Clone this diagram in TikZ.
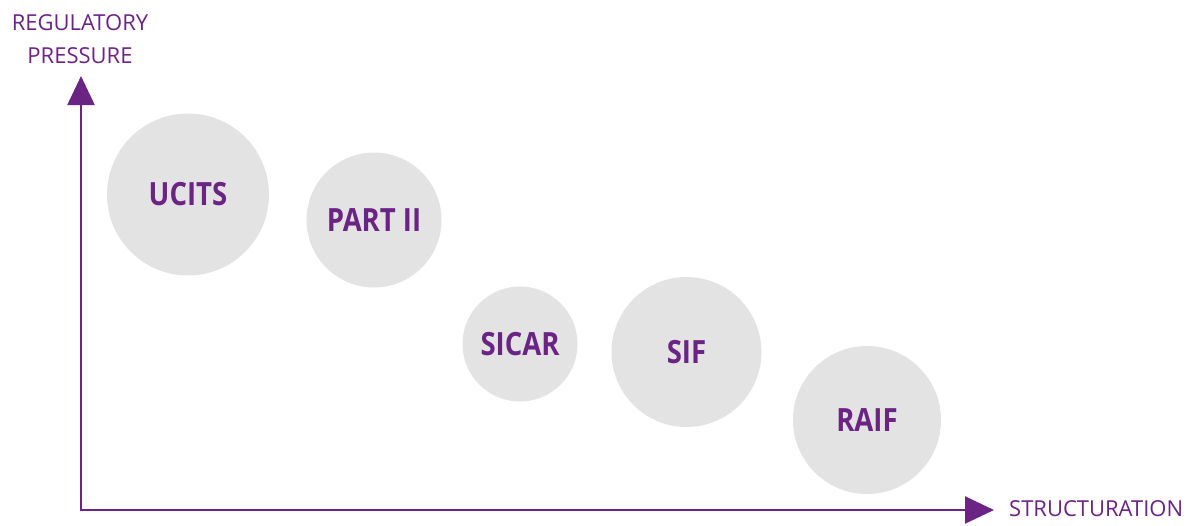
\documentclass[tikz,border=0pt]{standalone}
\usepackage{fontspec}
\setmainfont{Open Sans}
\newfontfamily\bubfont{Open Sans}[FakeStretch=0.86]
\usetikzlibrary{arrows.meta}
\definecolor{axpurple}{HTML}{6B2384}
\definecolor{bubgrey}{HTML}{E3E3E3}
\tikzset{
  bubble/.style={circle, fill=bubgrey, draw=none, inner sep=0pt, text=axpurple,
    font=\bubfont\fontsize{32}{32}\selectfont\bfseries},
  axis/.style={draw=axpurple, line width=2.2pt, -{Triangle[length=29pt,width=27pt]}},
  axlabel/.style={text=axpurple, inner sep=0pt, font=\fontsize{22}{33}\selectfont}
}
\begin{document}
\begin{tikzpicture}[x=1pt,y=-1pt]
\useasboundingbox (0,0) rectangle (1190,525);
\coordinate (origin) at (81,510);
\coordinate (ytip) at (81,76);
\coordinate (xtip) at (994,510);
\node[bubble, minimum size=162pt] (ucits) at (188,194.5) {UCITS};
\node[bubble, minimum size=135pt] (part) at (374,220) {PART II};
\node[bubble, minimum size=115pt] (sicar) at (520,344) {SICAR};
\node[bubble, minimum size=150pt] (sif) at (686.5,352) {SIF};
\node[bubble, minimum size=148pt] (raif) at (867,420) {RAIF};
\draw[axis] (origin.center) -- (ytip);
\draw[axis, line cap=rect] (origin.center) -- (xtip);
\node[axlabel, align=center, anchor=south] (ylab) at (80,64) {REGULATORY\\PRESSURE};
\node[axlabel, anchor=west] (xlab) at (1009,509) {STRUCTURATION};
\end{tikzpicture}
\end{document}
